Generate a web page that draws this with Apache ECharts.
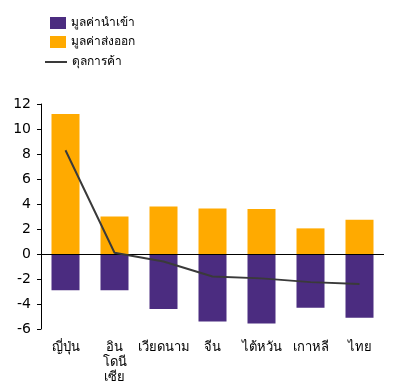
<!DOCTYPE html>
<html><head><meta charset="utf-8">
<script src="https://cdn.jsdelivr.net/npm/echarts@6/dist/echarts.min.js"></script>
<style>html,body{margin:0;padding:0;background:#fff}#c{width:404px;height:391px}</style>
</head><body><div id="c"></div>
<script>
const categories = ['ญี่ปุ่น', 'อิน\nโดนี\nเซีย', 'เวียดนาม', 'จีน', 'ไต้หวัน', 'เกาหลี', 'ไทย'];
const exportsVal = [11.2, 3.0, 3.8, 3.65, 3.6, 2.05, 2.75];
const importsVal = [-2.9, -2.9, -4.4, -5.4, -5.55, -4.3, -5.1];
const balanceVal = [8.3, 0.1, -0.6, -1.8, -1.95, -2.25, -2.4];
const seriesNames = ['มูลค่านำเข้า', 'มูลค่าส่งออก', 'ดุลการค้า'];

const font = 'Tahoma, "DejaVu Sans", "Noto Sans", sans-serif';
const chart = echarts.init(document.getElementById('c'));
chart.setOption({
  animation: false,
  textStyle: { fontFamily: font },
  legend: [{
    orient: 'vertical', left: 45, top: 12, itemWidth: 16, itemHeight: 12, itemGap: 7,
    textStyle: { fontSize: 12, color: '#000', fontFamily: font },
    data: [
      { name: seriesNames[0], icon: 'rect' },
      { name: seriesNames[1], icon: 'rect' }
    ]
  }, {
    orient: 'vertical', left: 40, top: 51, itemWidth: 22, itemHeight: 2,
    textStyle: { fontSize: 12, color: '#000', fontFamily: font },
    data: [{ name: seriesNames[2], icon: 'rect' }]
  }],
  grid: { left: 41, right: 20, top: 104, bottom: 62, containLabel: false },
  xAxis: {
    type: 'category', data: categories,
    axisLine: { show: false, onZero: false },
    axisTick: { show: false },
    axisLabel: { color: '#000', fontSize: 13, margin: 11, lineHeight: 15, fontFamily: font, interval: 0 }
  },
  yAxis: {
    type: 'value', min: -6, max: 12, interval: 2,
    splitLine: { show: false },
    axisLine: { show: true, lineStyle: { color: '#000' } },
    axisTick: { show: true, length: 4, lineStyle: { color: '#000' } },
    axisLabel: { color: '#000', fontSize: 14, margin: 10, fontFamily: font }
  },
  series: [
    { name: seriesNames[0], type: 'bar', stack: 'a', data: importsVal, barWidth: 28,
      itemStyle: { color: '#4B2C80' },
      markLine: { silent: true, symbol: 'none', label: { show: false },
        lineStyle: { color: '#000', type: 'solid', width: 1 }, data: [{ yAxis: 0 }] } },
    { name: seriesNames[1], type: 'bar', stack: 'a', data: exportsVal, barWidth: 28,
      itemStyle: { color: '#FFAA00' } },
    { name: seriesNames[2], type: 'line', data: balanceVal, symbol: 'none',
      lineStyle: { color: '#3A3A3A', width: 2 }, itemStyle: { color: '#3A3A3A' }, z: 5 }
  ]
});
</script></body></html>
